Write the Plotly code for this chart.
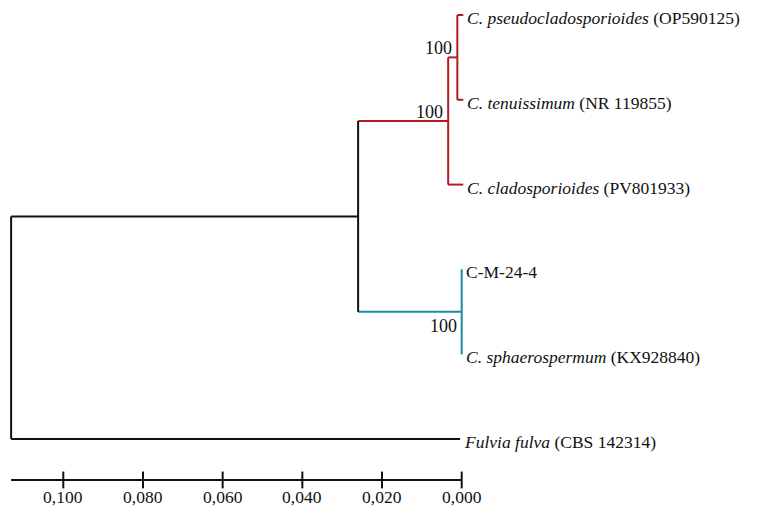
import plotly.graph_objects as go

# ---------------- data ----------------
leaf_keys = ["pseudo", "tenui", "clados", "cm", "sphaero", "fulvia"]
leaf_labels = [
    "<i>C. pseudocladosporioides</i> (OP590125)",
    "<i>C. tenuissimum</i> (NR 119855)",
    "<i>C. cladosporioides</i> (PV801933)",
    "C-M-24-4",
    "<i>C. sphaerospermum</i> (KX928840)",
    "<i>Fulvia fulva</i> (CBS 142314)",
]
leaf_dist = [-0.0004, -0.0004, -0.0004, -0.0001, -0.0001, 0.0004]
leaf_clade = ["red", "red", "red", "blue", "blue", "black"]

node_keys = ["root", "ingroup", "redclade", "redinner", "blueclade"]
node_dist = [0.1131, 0.0260, 0.0034, 0.0011, 0.0000]
node_children = [
    ["ingroup", "fulvia"],
    ["redclade", "blueclade"],
    ["redinner", "clados"],
    ["pseudo", "tenui"],
    ["cm", "sphaero"],
]
node_clade = ["black", "black", "red", "red", "blue"]
node_support = [None, None, 100, 100, 100]

scale_ticks = [0.100, 0.080, 0.060, 0.040, 0.020, 0.000]
scale_labels = ["0,100", "0,080", "0,060", "0,040", "0,020", "0,000"]
scale_start = 0.1131

colors = {"red": "#B31B20", "blue": "#1A8AA3", "black": "#111111"}
FONT = "Liberation Serif"

# ---------------- build tree geometry ----------------
pos = {}
clade = {}
for i, k in enumerate(leaf_keys):
    pos[k] = (leaf_dist[i], float(i))
    clade[k] = leaf_clade[i]
for i, k in enumerate(node_keys):
    clade[k] = node_clade[i]


def node_y(k):
    if k in pos:
        return pos[k][1]
    i = node_keys.index(k)
    ys = [node_y(c) for c in node_children[i]]
    y = (min(ys) + max(ys)) / 2
    pos[k] = (node_dist[i], y)
    return y


for k in node_keys:
    node_y(k)

segs = {"red": ([], []), "blue": ([], []), "black": ([], [])}
for i, k in enumerate(node_keys):
    nx, ny = pos[k]
    ys = [pos[c][1] for c in node_children[i]]
    sx, sy = segs[node_clade[i]]
    sx += [nx, nx, None]
    sy += [min(ys), max(ys), None]
    for c in node_children[i]:
        cx, cy = pos[c]
        sx2, sy2 = segs[clade[c]]
        sx2 += [nx, cx, None]
        sy2 += [cy, cy, None]

fig = go.Figure()
for col, (sx, sy) in segs.items():
    fig.add_trace(go.Scatter(x=sx, y=sy, mode="lines",
                             line=dict(color=colors[col], width=2),
                             hoverinfo="skip", showlegend=False))

# scale bar
bar_y = 5.483
fig.add_trace(go.Scatter(x=[scale_start, scale_ticks[-1]], y=[bar_y, bar_y], mode="lines",
                         line=dict(color="#111111", width=2), hoverinfo="skip", showlegend=False))
fig.add_trace(go.Scatter(x=scale_ticks, y=[bar_y] * len(scale_ticks), mode="markers",
                         marker=dict(symbol="line-ns", size=12,
                                     line=dict(color="#111111", width=2)),
                         hoverinfo="skip", showlegend=False))

annotations = []
for t, lab in zip(scale_ticks, scale_labels):
    annotations.append(dict(x=t, y=bar_y, text=lab, showarrow=False,
                            xanchor="center", yanchor="top", yshift=-5,
                            font=dict(family=FONT, size=17.5, color="#111111")))

for i, k in enumerate(leaf_keys):
    x, y = pos[k]
    annotations.append(dict(x=x, y=y, text=leaf_labels[i], showarrow=False,
                            xanchor="left", yanchor="middle", xshift=2, yshift=-3,
                            font=dict(family=FONT, size=17.5, color="#111111")))

for i, k in enumerate(node_keys):
    if node_support[i] is None:
        continue
    x, y = pos[k]
    below = node_clade[i] == "blue"
    annotations.append(dict(x=x, y=y, text=str(node_support[i]), showarrow=False,
                            xanchor="right", yanchor="top" if below else "bottom",
                            xshift=-3, yshift=-2 if below else -3,
                            font=dict(family=FONT, size=18, color="#111111")))

# plot area mapped to the page (browser body adds an 8px margin)
fig.update_layout(
    width=771, height=506,
    margin=dict(l=0, r=0, t=0, b=8),
    paper_bgcolor="white", plot_bgcolor="white",
    xaxis=dict(range=[0.11388, -0.07964], visible=False, showgrid=False, zeroline=False),
    yaxis=dict(range=[5.790, -0.0825], visible=False, showgrid=False, zeroline=False),
    annotations=annotations,
)

fig.write_html("out.html")
